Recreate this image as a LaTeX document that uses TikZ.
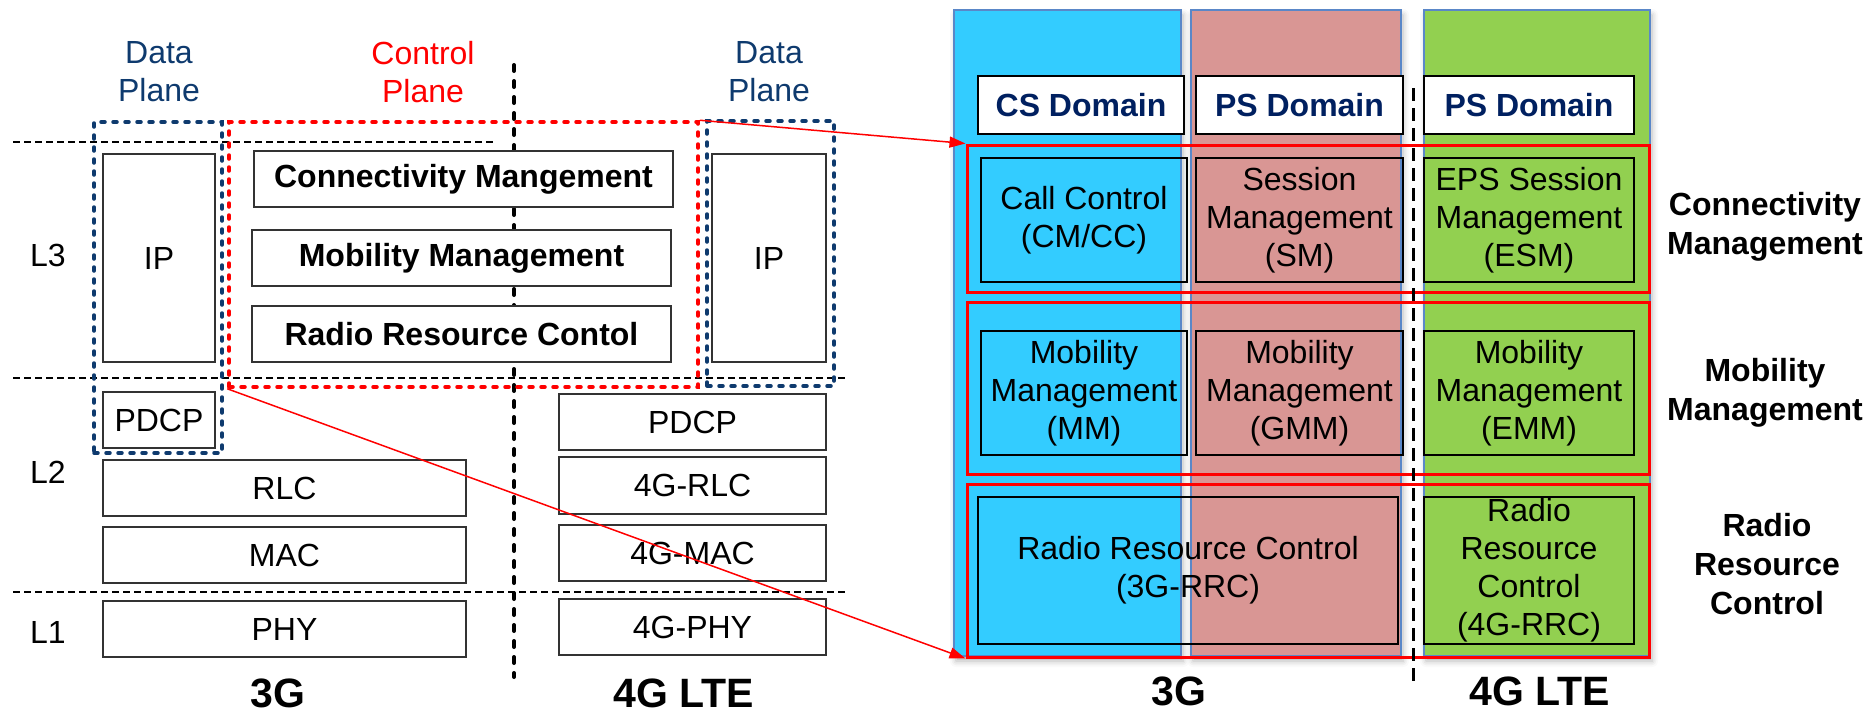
\documentclass[tikz,border=0pt]{standalone}
\usepackage{fontspec}
\setmainfont{Liberation Sans}
\usetikzlibrary{arrows.meta,shadows.blur}

\definecolor{dpblue}{RGB}{14,58,110}
\definecolor{navy}{RGB}{0,32,96}
\definecolor{csblue}{RGB}{51,204,255}
\definecolor{psrose}{RGB}{217,150,148}
\definecolor{ltegreen}{RGB}{146,208,80}
\definecolor{coledge}{RGB}{90,135,200}

\begin{document}
\begin{tikzpicture}[x=0.5pt,y=-0.5pt,
  every node/.style={font=\fontsize{16}{19}\selectfont, inner sep=0pt, anchor=center},
  % rectangle spanning corner (x1,y1) to corner (x2,y2)
  span/.style args={#1/#2/#3/#4}{minimum width={(#3-#1)*0.5pt}, minimum height={(#4-#2)*0.5pt},
    at={({(#1+#3)/2},{(#2+#4)/2})}},
  layerbox/.style={draw=black!80, fill=white, line width=0.8pt, align=center},
  boldbox/.style={layerbox, font=\fontsize{16}{19}\selectfont\bfseries},
  dataplane/.style={draw=dpblue, line width=1.75pt, dash pattern=on 2pt off 4pt, line cap=round},
  ctrlplane/.style={draw=red, line width=1.75pt, dash pattern=on 2pt off 4pt, line cap=round},
  layerline/.style={line width=0.75pt, dash pattern=on 3.3pt off 2.2pt},
  splitline/.style={line width=2pt, dash pattern=on 3pt off 5pt, line cap=round},
  genline/.style={line width=1.5pt, dash pattern=on 6.5pt off 3.5pt},
  column/.style={draw=coledge, line width=0.6pt,
    blur shadow={shadow xshift=1pt, shadow yshift=-2.5pt, shadow blur radius=3pt, shadow opacity=30}},
  domainbox/.style={draw=black, fill=white, line width=1pt, text=navy,
    font=\fontsize{16}{19}\selectfont\bfseries},
  func/.style={draw=black, line width=1pt, align=center},
  rowbox/.style={draw=red, line width=1.5pt},
  biglabel/.style={font=\fontsize{20.5}{24}\selectfont\bfseries},
  sidelabel/.style={align=center, font=\fontsize{16}{19.5}\selectfont\bfseries},
  link/.style={red, line width=0.75pt, -{Triangle[length=8pt,width=5.5pt]}}
]
\useasboundingbox (0,0) rectangle (1870,714);

% ---------------- protocol stacks ----------------
% layer separators
\draw[layerline] (13,142) -- (493,142);
\draw[layerline] (13,378) -- (847,378);
\draw[layerline] (13,592) -- (847,592);

% split between 3G and 4G
\coordinate (splitTop) at (514,65);
\coordinate (splitBot) at (514,677);
\draw[splitline] (splitTop) -- (splitBot);

\node (L3) at (48,255) {L3};
\node (L2) at (48,472) {L2};
\node (L1) at (48,632) {L1};

% 3G stack
\node[layerbox, span=103/154/215/362] (ipA) {IP};
\node[layerbox, span=103/392/215/448] (pdcpA) {PDCP};
\node[layerbox, span=103/460/466/516] (rlcA) {RLC};
\node[layerbox, span=103/527/466/583] (macA) {MAC};
\node[layerbox, span=103/601/466/657] (phyA) {PHY};

% control plane functions
\node[boldbox, span=254/151/673/207] (cmL) {Connectivity Mangement};
\node[boldbox, span=252/230/671/286] (mmL) {Mobility Management};
\node[boldbox, span=252/306/671/362] (rrcL) {Radio Resource Contol};

% 4G stack
\node[layerbox, span=712/154/826/362] (ipB) {IP};
\node[layerbox, span=559/394/826/450] (pdcpB) {PDCP};
\node[layerbox, span=559/457/826/514] (rlcB) {4G-RLC};
\node[layerbox, span=559/525/826/581] (macB) {4G-MAC};
\node[layerbox, span=559/599/826/655] (phyB) {4G-PHY};

% plane groupings
\node[dataplane, span=94/122/222/453] (dpA) {};
\node[ctrlplane, span=229/122/698/387] (cp) {};
\node[dataplane, span=707/121/834/386] (dpB) {};

\node[text=dpblue, align=center] (dpAlbl) at (159,72) {Data\\Plane};
\node[text=red, align=center] (cplbl) at (423,72) {Control\\Plane};
\node[text=dpblue, align=center] (dpBlbl) at (769,72) {Data\\Plane};

\node[biglabel] (g3L) at (278,693) {3G};
\node[biglabel] (g4L) at (684,693) {4G LTE};

% ---------------- control plane by domain ----------------
\node[column, fill=csblue, span=954/10/1181/656] (colCS) {};
\node[column, fill=psrose, span=1191/10/1401/656] (colPS) {};
\node[column, fill=ltegreen, span=1424/10/1650/656] (colLTE) {};

\node[domainbox, span=978/76/1184/134] (csd) {CS Domain};
\node[domainbox, span=1196/76/1403/134] (psd) {PS Domain};
\node[domainbox, span=1424/76/1634/134] (epsd) {PS Domain};

\node[func, span=981/158/1187/282] (cc) {Call Control\\(CM/CC)};
\node[func, span=1196/158/1403/282] (sm) {Session\\Management\\(SM)};
\node[func, span=1424/158/1634/282] (esm) {EPS Session\\Management\\(ESM)};

\node[func, span=981/331/1187/455] (mm) {Mobility\\Management\\(MM)};
\node[func, span=1196/331/1403/455] (gmm) {Mobility\\Management\\(GMM)};
\node[func, span=1424/331/1634/455] (emm) {Mobility\\Management\\(EMM)};

\node[func, span=978/497/1398/644] (rrc3) {Radio Resource Control\\(3G-RRC)};
\node[func, span=1424/497/1634/644] (rrc4) {Radio\\Resource\\Control\\(4G-RRC)};

\node[rowbox, span=967/145/1649/292] (rowC) {};
\node[rowbox, span=967/302/1649/474] (rowM) {};
\node[rowbox, span=967/484/1649/657] (rowR) {};

\coordinate (genTop) at (1413,88);
\coordinate (genBot) at (1413,682);
\draw[genline] (genTop) -- (genBot);

\node[sidelabel] (slC) at (1765,227) {Connectivity\\Management};
\node[sidelabel] (slM) at (1765,393) {Mobility\\Management};
\node[sidelabel] (slR) at (1767,564) {Radio\\Resource\\Control};

\node[biglabel] (g3R) at (1179,691) {3G};
\node[biglabel] (g4R) at (1540,691) {4G LTE};

% ---------------- zoom connectors ----------------
\draw[link] (cp.north east) -- (rowC.north west);
\draw[link] (cp.south west) -- (rowR.south west);
\end{tikzpicture}
\end{document}
